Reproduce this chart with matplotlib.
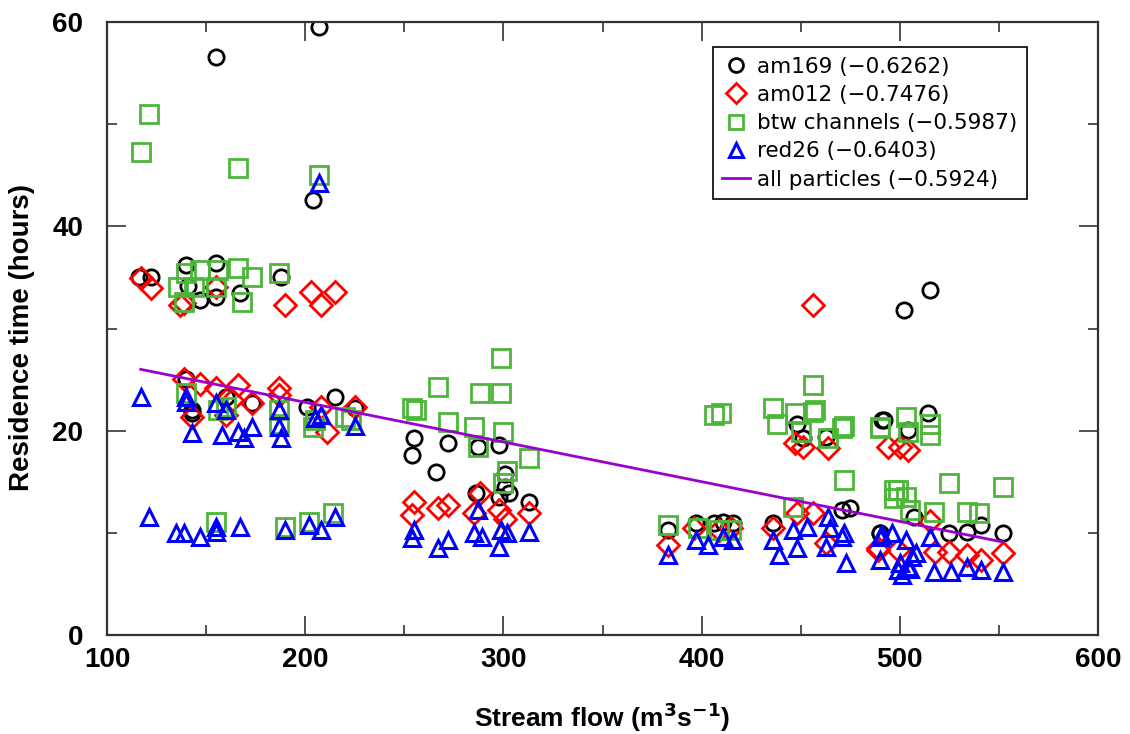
import matplotlib
matplotlib.use("Agg")
import matplotlib.pyplot as plt
from matplotlib.ticker import MultipleLocator

# am169
am169_x = [155, 207, 204, 116, 122, 140, 155, 141, 155, 147, 167, 188,
           140, 143, 143, 160, 173, 201, 215, 225,
           255, 254, 266, 272, 287, 298, 301, 301, 286, 303, 313, 298,
           383, 397, 406, 411, 416, 436, 448, 451, 463, 475, 491, 490,
           502, 515, 492, 514, 504, 471, 490, 525, 534, 541, 552, 507]
am169_y = [56.6, 59.5, 42.6, 35.0, 35.0, 36.2, 36.4, 34.2, 33.1, 32.8, 33.5, 35.0,
           25.1, 22.0, 21.7, 23.3, 22.7, 22.3, 23.3, 22.2,
           19.3, 17.6, 16.0, 18.8, 18.4, 18.6, 15.8, 14.5, 13.9, 13.9, 13.0, 13.5,
           10.3, 11.0, 11.0, 11.1, 11.0, 11.0, 20.7, 19.3, 19.4, 12.4, 21.0, 10.0,
           31.8, 33.8, 21.0, 21.7, 20.1, 12.2, 10.0, 10.0, 10.1, 10.8, 10.0, 11.5]

# am012
am012_x = [117, 122, 137, 139, 155, 190, 203, 208, 215,
           139, 147, 143, 155, 166, 173, 187, 187, 208, 163, 160, 211, 225,
           255, 254, 267, 272, 288, 285, 298, 301, 313,
           456, 383, 396, 409, 415, 436, 447, 464, 448, 456, 463, 451, 489,
           500, 494, 504, 489, 499, 515, 518, 525, 534, 541, 552]
am012_y = [34.9, 34.0, 32.3, 32.5, 34.1, 32.3, 33.6, 32.3, 33.6,
           25.1, 24.6, 21.3, 24.2, 24.5, 22.7, 24.2, 23.5, 22.3, 23.0, 21.5, 19.9, 22.3,
           13.0, 11.7, 12.4, 12.7, 13.9, 11.9, 12.2, 11.4, 11.9,
           32.3, 8.8, 10.5, 10.3, 10.5, 10.5, 18.8, 18.3, 11.9, 11.9, 9.0, 18.4, 8.3,
           18.4, 18.4, 18.1, 8.5, 8.3, 11.2, 8.1, 8.1, 7.8, 7.3, 8.0]

# btw channels
btw_x = [121, 117, 166, 207, 140, 136, 147, 156, 166, 173, 187, 139, 155, 168, 144,
         140, 156, 160, 187, 187, 204, 205, 223, 220,
         155, 190, 202, 214,
         254, 256, 267, 272, 285, 288, 299, 299, 300, 287, 313, 302, 300,
         383, 398, 406, 410, 409, 415, 436, 438, 447, 456, 456, 450, 464, 471, 472, 446, 457,
         490, 497, 472, 490, 503, 504, 515, 515, 499, 497, 503, 525, 517, 534, 540, 552, 505]
btw_y = [51.0, 47.3, 45.7, 45.0, 35.4, 34.1, 35.7, 35.7, 35.9, 35.0, 35.4, 32.6, 34.1, 32.6, 34.1,
         23.7, 22.0, 22.3, 22.0, 20.7, 20.4, 21.0, 21.0, 21.3,
         11.1, 10.6, 11.1, 11.9,
         22.2, 22.0, 24.3, 20.8, 20.4, 23.7, 23.7, 27.1, 19.9, 18.4, 17.3, 16.1, 14.9,
         10.8, 10.5, 21.5, 21.7, 10.3, 10.3, 22.2, 20.7, 21.7, 24.5, 21.8, 19.9, 19.3, 20.3, 15.2, 12.5, 22.0,
         20.4, 14.2, 20.5, 20.3, 21.3, 19.9, 20.7, 19.6, 14.2, 13.4, 13.5, 14.9, 12.0, 12.0, 11.9, 14.5, 12.2]

# red26
red26_x = [207, 117, 140, 140, 155, 160, 143, 158, 166, 169, 173, 187, 187, 188, 205, 208, 225,
           121, 135, 139, 147, 155, 155, 167, 190, 202, 208, 215,
           255, 254, 267, 272, 287, 285, 289, 299, 298, 302, 313,
           383, 397, 403, 411, 416, 436, 439, 448, 446, 453, 464, 463, 473, 465, 471,
           490, 490, 496, 472, 491, 499, 503, 504, 501, 506, 515, 517, 526, 534, 541, 552, 505, 500, 508]
red26_y = [44.2, 23.3, 23.3, 22.8, 22.7, 22.0, 19.8, 19.6, 19.9, 19.3, 20.4, 22.0, 20.4, 19.3, 21.2, 21.5, 20.5,
           11.5, 10.0, 10.0, 9.6, 10.6, 10.1, 10.6, 10.3, 10.8, 10.3, 11.5,
           10.3, 9.5, 8.5, 9.3, 12.2, 10.0, 9.6, 10.3, 8.6, 10.0, 10.1,
           7.8, 9.3, 8.8, 9.6, 9.3, 9.3, 7.8, 8.5, 10.3, 10.6, 11.5, 8.6, 7.0, 10.5, 9.6,
           9.6, 7.3, 10.0, 10.0, 9.8, 6.4, 9.3, 6.7, 5.9, 7.6, 9.6, 6.2, 6.2, 6.7, 6.4, 6.2, 6.5, 7.0, 8.0]

# all particles fit
fit_x = [117, 552]
fit_y = [26.0, 9.1]

labels = ['am169 (\u22120.6262)', 'am012 (\u22120.7476)', 'btw channels (\u22120.5987)',
          'red26 (\u22120.6403)', 'all particles (\u22120.5924)']

fig = plt.figure(figsize=(11.3, 7.34), dpi=100)
ax = fig.add_axes([0.0947, 0.1349, 0.877, 0.8351])

ax.plot(am169_x, am169_y, 'o', ms=11, mfc='none', mec='black', mew=2, label=labels[0])
ax.plot(am012_x, am012_y, 'D', ms=11, mfc='none', mec='#ff0000', mew=2, label=labels[1])
ax.plot(btw_x, btw_y, 's', ms=13, mfc='none', mec='#4db53a', mew=2, label=labels[2])
ax.plot(red26_x, red26_y, '^', ms=12, mfc='none', mec='#0000ff', mew=2.2, label=labels[3])
ax.plot(fit_x, fit_y, '-', color='#9a00d0', lw=2, label=labels[4])

ax.set_xlim(100, 600)
ax.set_ylim(0, 60)
ax.xaxis.set_major_locator(MultipleLocator(100))
ax.xaxis.set_minor_locator(MultipleLocator(50))
ax.yaxis.set_major_locator(MultipleLocator(20))
ax.yaxis.set_minor_locator(MultipleLocator(10))
ax.tick_params(which='both', direction='in', top=True, right=True, width=1.2, color='#333333')
ax.tick_params(which='major', length=14)
ax.tick_params(which='minor', length=7)
ax.tick_params(axis='x', pad=9)
ax.tick_params(axis='y', pad=17)
for s in ax.spines.values():
    s.set_linewidth(1.6)
    s.set_color('#333333')

for lab in ax.get_xticklabels() + ax.get_yticklabels():
    lab.set_fontfamily(['Liberation Sans Narrow', 'Liberation Sans', 'DejaVu Sans'])
    lab.set_fontweight('bold')
    lab.set_fontsize(20)

ax.set_xlabel('Stream flow (m$^\\mathbf{3}$s$^\\mathbf{-1}$)', fontsize=19, fontweight='bold',
              family=['Liberation Sans', 'DejaVu Sans'], va='center')
ax.xaxis.set_label_coords(0.5, -0.134)
ax.set_ylabel('Residence time (hours)', fontsize=20, fontweight='bold',
              family=['Liberation Sans', 'DejaVu Sans'], va='center')
ax.yaxis.set_label_coords(-0.086, 0.485)

leg = ax.legend(loc='upper left', bbox_to_anchor=(0.611, 0.959), fancybox=False,
                edgecolor='black', framealpha=1, borderaxespad=0, handlelength=1.3,
                handletextpad=0.3, labelspacing=0.38, borderpad=0.45,
                prop=dict(family='DejaVu Sans', size=15.5))
leg.get_frame().set_linewidth(1.2)
for h in leg.legend_handles[:4]:
    h.set_markersize(10)

fig.savefig('out.png', dpi=100)
